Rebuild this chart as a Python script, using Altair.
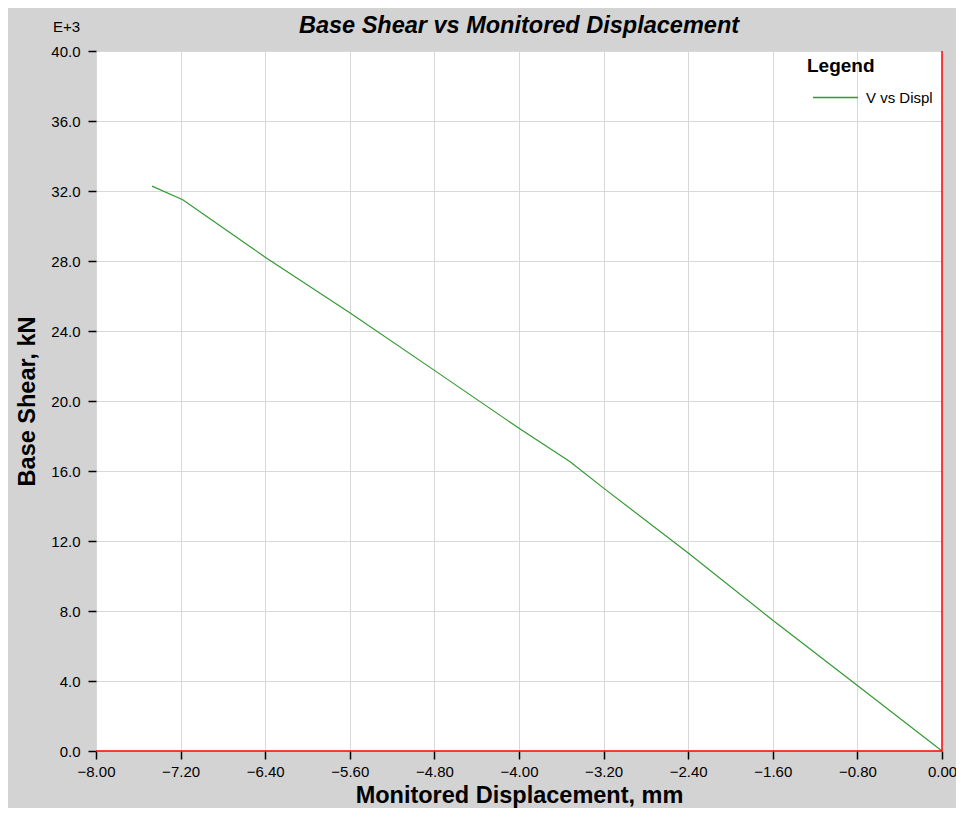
import altair as alt
import pandas as pd

# Curve (displacement in mm, base shear in E+3 kN)
disp = [-7.47, -7.18, -6.40, -5.60, -4.80, -4.00, -3.52, -3.20, -2.40, -1.60, -0.80, 0.00]
shear = [32.28, 31.50, 28.22, 25.04, 21.75, 18.44, 16.54, 15.02, 11.32, 7.47, 3.74, 0.00]
series = ["V vs Displ"] * len(disp)

x_ticks = [-8.0, -7.2, -6.4, -5.6, -4.8, -4.0, -3.2, -2.4, -1.6, -0.8, 0.0]
y_ticks = [0, 4, 8, 12, 16, 20, 24, 28, 32, 36, 40]

df = pd.DataFrame({"disp": disp, "shear": shear, "series": series})
zero = pd.DataFrame({"v": [0.0]})

FONT = "Liberation Sans"

x_enc = alt.X(
    "disp:Q",
    scale=alt.Scale(domain=[-8, 0], nice=False, zero=False),
    axis=alt.Axis(
        title="Monitored Displacement, mm",
        values=x_ticks,
        format=".2f",
        domain=False,
        grid=True,
        gridColor="#d8d8d8",
        gridWidth=1,
        tickColor="black",
        tickSize=8,
        tickWidth=1.5,
        labelPadding=5,
        labelFont=FONT,
        labelFontSize=15,
        labelColor="black",
        titleFont=FONT,
        titleFontSize=23.5,
        titleFontWeight="bold",
        titleColor="black",
        titlePadding=4,
        labelFlush=False,
    ),
)
y_enc = alt.Y(
    "shear:Q",
    scale=alt.Scale(domain=[0, 40], nice=False),
    axis=alt.Axis(
        title="Base Shear, kN",
        values=y_ticks,
        format=".1f",
        domain=False,
        grid=True,
        gridColor="#d8d8d8",
        gridWidth=1,
        tickColor="black",
        tickSize=8,
        tickWidth=1.5,
        labelPadding=8,
        labelFont=FONT,
        labelFontSize=15,
        labelColor="black",
        titleFont=FONT,
        titleFontSize=23.5,
        titleFontWeight="bold",
        titleColor="black",
        titlePadding=11,
        labelFlush=False,
    ),
)

line = alt.Chart(df).mark_line(strokeWidth=1.2).encode(
    x=x_enc,
    y=y_enc,
    color=alt.Color(
        "series:N",
        scale=alt.Scale(domain=["V vs Displ"], range=["#339a33"]),
        legend=alt.Legend(
            title="Legend",
            orient="none",
            legendX=711,
            legendY=6,
            padding=0,
            symbolType="stroke",
            symbolSize=2025,
            symbolStrokeWidth=1.5,
            symbolOffset=5,
            labelOffset=7,
            titleFont=FONT,
            titleFontSize=19,
            titleFontWeight="bold",
            titleColor="black",
            titlePadding=-2,
            labelFont=FONT,
            labelFontSize=15,
            labelColor="black",
        ),
    ),
)

vrule = alt.Chart(zero).mark_rule(color="#ff0000", strokeWidth=1.5).encode(x=alt.X("v:Q"))
hrule = alt.Chart(zero).mark_rule(color="#ff0000", strokeWidth=1.5).encode(y=alt.Y("v:Q"))

exp_label = alt.Chart(zero).mark_text(
    text="E+3", align="right", baseline="middle", font=FONT, fontSize=15, color="black"
).encode(x=alt.value(-16), y=alt.value(-24))

chart = (
    alt.layer(line, vrule, hrule, exp_label)
    .properties(
        width=846,
        height=700,
        background="#d3d3d3",
        padding={"left": 88, "top": 43, "right": 14, "bottom": 57},
        autosize=alt.AutoSizeParams(type="none"),
        title=alt.Title(
            "Base Shear vs Monitored Displacement",
            font=FONT,
            fontSize=23.5,
            fontWeight="bold",
            fontStyle="italic",
            color="black",
            anchor="middle",
            baseline="alphabetic",
            offset=-36,
        ),
    )
    .configure_view(fill="white", stroke=None)
)

chart.save("out.html", embed_options={"renderer": "svg", "actions": False})
